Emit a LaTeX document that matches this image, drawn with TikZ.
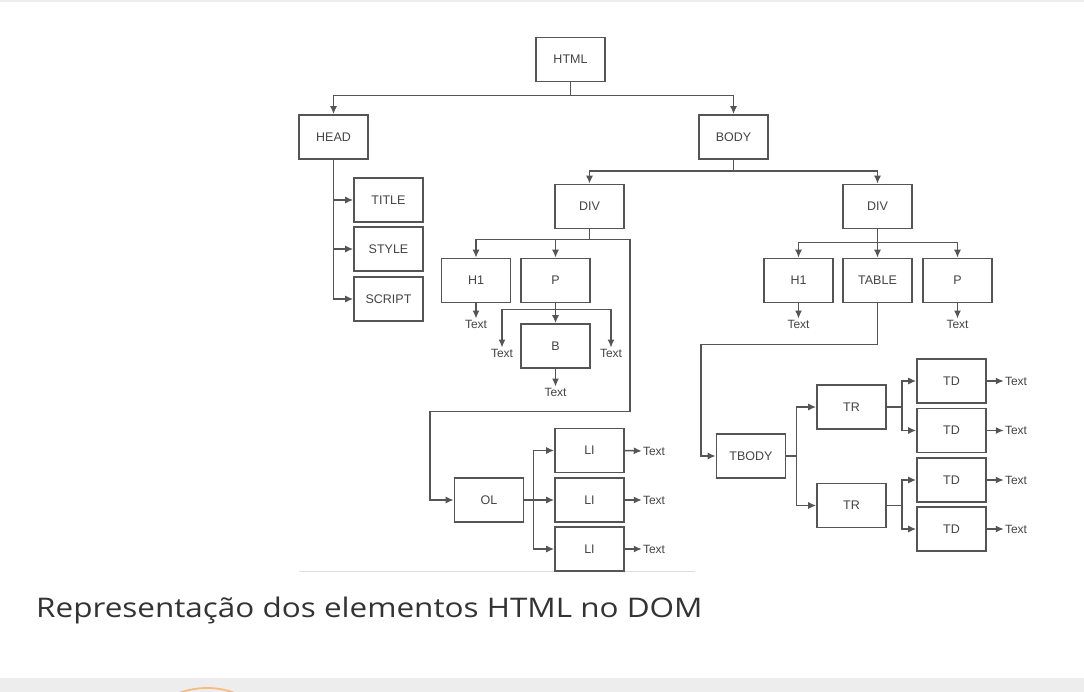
\documentclass[tikz,border=0pt]{standalone}
\usepackage{fontspec}
\usetikzlibrary{arrows.meta}
\newfontfamily\boxfont{Liberation Sans}
\newfontfamily\capfont[FakeStretch=1.165]{Open Sans}
\definecolor{linec}{HTML}{555555}
\definecolor{txtc}{HTML}{444444}
\definecolor{capc}{HTML}{333333}
\definecolor{bandc}{HTML}{EDEDED}
\definecolor{arcc}{HTML}{F5BB80}
\begin{document}
\begin{tikzpicture}[x=1pt,y=-1pt,
  elbox/.style={draw=linec, line width=1.6pt, minimum width=69pt, minimum height=44pt, inner sep=0pt, font=\boxfont\fontsize{12.5}{14}\selectfont, text=txtc},
  leaf/.style={inner sep=1pt, font=\boxfont\fontsize{12}{14}\selectfont, text=txtc},
  conn/.style={draw=linec, line width=1.5pt},
  arr/.style={conn, -{Latex[length=8pt,width=7pt]}}]
\useasboundingbox (0,0) rectangle (1084,692);
\fill[white] (0,0) rectangle (1084,692);
\fill[bandc] (0,0) rectangle (1084,2.5);
\begin{scope}
\clip (0,678) rectangle (1084,692);
\fill[bandc] (0,678) rectangle (1084,692);
\draw[arcc, line width=1.8pt] (207,768) circle (80);
\end{scope}
\draw[black!13, line width=1pt] (299,571) -- (695,571);

% boxes
\node[elbox] (html) at (570.5,59.5) {HTML};
\node[elbox] (head) at (333.5,137) {HEAD};
\node[elbox] (body) at (733.5,137) {BODY};
\node[elbox] (title) at (388.5,200) {TITLE};
\node[elbox] (style) at (388.5,249) {STYLE};
\node[elbox] (script) at (388.5,299) {SCRIPT};
\node[elbox] (diva) at (589.5,206.5) {DIV};
\node[elbox] (hia) at (476,280.5) {H1};
\node[elbox] (pa) at (555.5,280.5) {P};
\node[elbox] (b) at (555.5,346) {B};
\node[elbox] (ol) at (489,500) {OL};
\node[elbox] (lia) at (589.5,450.5) {LI};
\node[elbox] (lib) at (589.5,500) {LI};
\node[elbox] (lic) at (589.5,549) {LI};
\node[elbox] (divb) at (877.5,206.5) {DIV};
\node[elbox] (hib) at (798.5,280.5) {H1};
\node[elbox] (table) at (877.5,280.5) {TABLE};
\node[elbox] (pb) at (957.5,280.5) {P};
\node[elbox] (tbody) at (751,456) {TBODY};
\node[elbox] (tra) at (851.5,407) {TR};
\node[elbox] (trb) at (851.5,505.5) {TR};
\node[elbox] (tda) at (951.5,381) {TD};
\node[elbox] (tdb) at (951.5,430.5) {TD};
\node[elbox] (tdc) at (951.5,480) {TD};
\node[elbox] (tdd) at (951.5,529) {TD};

% text leaves
\node[leaf] (thia) at (476,324) {Text};
\node[leaf] (tpl) at (502,353) {Text};
\node[leaf] (tpr) at (611,353) {Text};
\node[leaf] (tb) at (555.5,392) {Text};
\node[leaf] (tlia) at (654,451) {Text};
\node[leaf] (tlib) at (654,500) {Text};
\node[leaf] (tlic) at (654,549) {Text};
\node[leaf] (thib) at (798.5,324) {Text};
\node[leaf] (tpb) at (957.5,324) {Text};
\node[leaf] (ttda) at (1016,381) {Text};
\node[leaf] (ttdb) at (1016,430.5) {Text};
\node[leaf] (ttdc) at (1016,480) {Text};
\node[leaf] (ttdd) at (1016,529) {Text};

% connectors
\draw[arr] (html.south) -- ++(0,13) -| (head.north);
\draw[arr] (html.south) -- ++(0,13) -| (body.north);
\draw[arr] (head.south) |- (title.west);
\draw[arr] (head.south) |- (style.west);
\draw[arr] (head.south) |- (script.west);
\draw[arr] (body.south) -- ++(0,11) -| (diva.north);
\draw[arr] (body.south) -- ++(0,11) -| (divb.north);
\draw[arr] (diva.south) -- ++(0,10) -| (hia.north);
\draw[arr] (diva.south) -- ++(0,10) -| (pa.north);
\draw[arr] (diva.south) |- ++(40.5,10) |- ++(-200,172) |- (ol.west);
\draw[arr] (hia.south) -- (thia.north);
\draw[arr] (pa.south) -- (b.north);
\draw[arr] (pa.south) -- ++(0,6) -| (tpl.north);
\draw[arr] (pa.south) -- ++(0,6) -| (tpr.north);
\draw[arr] (b.south) -- (tb.north);
\draw[arr] (ol.east) -- ++(9,0) |- (lia.west);
\draw[arr] (ol.east) -- (lib.west);
\draw[arr] (ol.east) -- ++(9,0) |- (lic.west);
\draw[arr] (lia.east) -- (tlia.west);
\draw[arr] (lib.east) -- (tlib.west);
\draw[arr] (lic.east) -- (tlic.west);
\draw[arr] (divb.south) -- ++(0,13) -| (hib.north);
\draw[arr] (divb.south) -- (table.north);
\draw[arr] (divb.south) -- ++(0,13) -| (pb.north);
\draw[arr] (hib.south) -- (thib.north);
\draw[arr] (pb.south) -- (tpb.north);
\draw[arr] (table.south) |- ++(-176.5,41) |- (tbody.west);
\draw[arr] (tbody.east) -- ++(10,0) |- (tra.west);
\draw[arr] (tbody.east) -- ++(10,0) |- (trb.west);
\draw[arr] (tra.east) -- ++(15,0) |- (tda.west);
\draw[arr] (tra.east) -- ++(15,0) |- (tdb.west);
\draw[arr] (trb.east) -- ++(15,0) |- (tdc.west);
\draw[arr] (trb.east) -- ++(15,0) |- (tdd.west);
\draw[arr] (tda.east) -- (ttda.west);
\draw[arr] (tdb.east) -- (ttdb.west);
\draw[arr] (tdc.east) -- (ttdc.west);
\draw[arr] (tdd.east) -- (ttdd.west);

% caption
\node[anchor=base west, inner sep=0pt, font=\capfont\fontsize{27}{32}\selectfont, text=capc] (caption) at (36,617) {Representação dos elementos HTML no DOM};
\end{tikzpicture}
\end{document}
